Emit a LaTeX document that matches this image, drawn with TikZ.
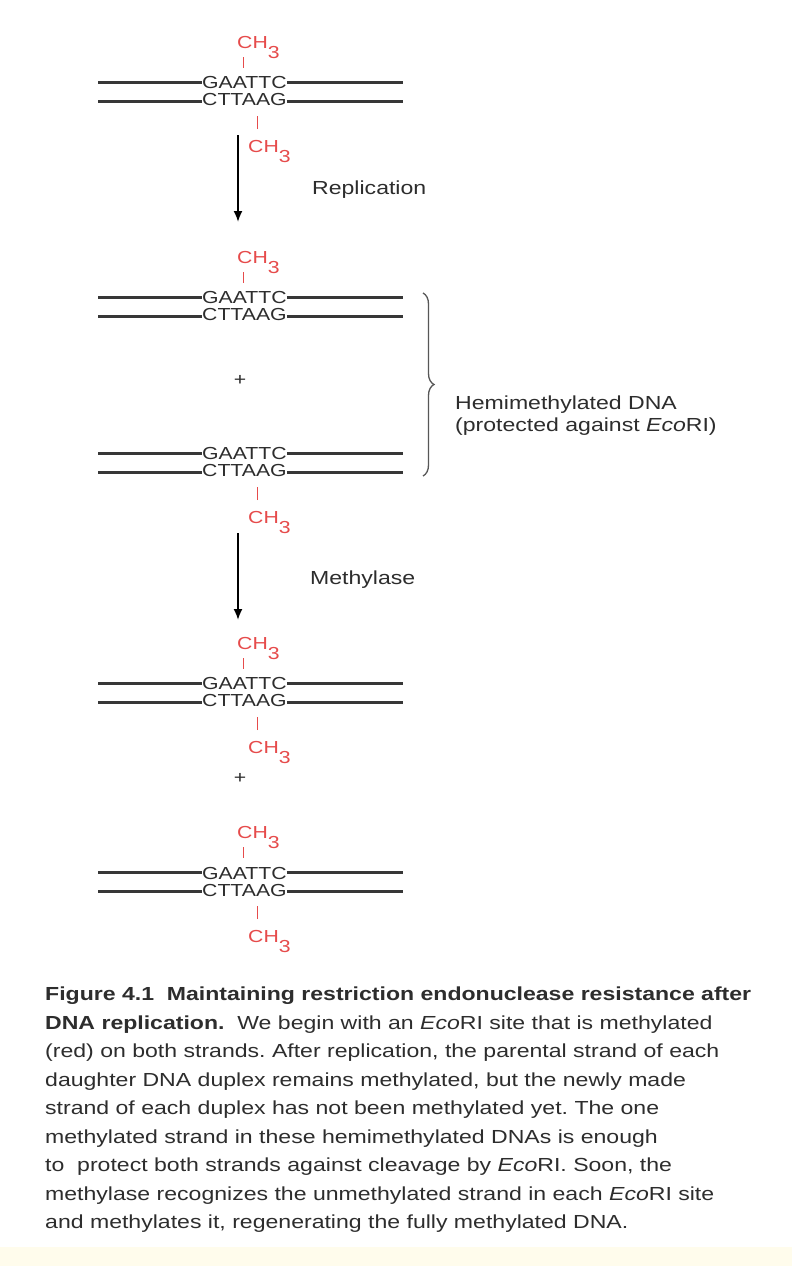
\documentclass[tikz,border=0pt]{standalone}
\usepackage{fontspec}
\setmainfont[FakeStretch=1.22]{Liberation Sans}
\usetikzlibrary{positioning, arrows.meta, decorations.pathreplacing}
\definecolor{strand}{RGB}{55, 55, 55}
\definecolor{ink}{RGB}{45, 45, 45}
\definecolor{methyl}{RGB}{230, 75, 75}
\definecolor{paper}{RGB}{255, 252, 236}
\newcommand{\methylCH}{CH\raisebox{-1.1ex}{3}}
\frenchspacing

\begin{document}
\begin{tikzpicture}[x=1pt, y=-1pt,
    basepair/.style={inner sep=0pt, text=ink, font=\fontsize{17.4}{17}\selectfont},
    strandline/.style={line width=3pt, strand},
    methylgrp/.style={inner sep=0pt, text=methyl, font=\fontsize{17.4}{17}\selectfont},
    bond/.style={line width=1pt, methyl},
    sidetext/.style={inner sep=0pt, text=ink, font=\fontsize{18.9}{22}\selectfont, anchor=west, align=left},
    captiontext/.style={inner sep=0pt, text=ink, font=\fontsize{18.9}{28.5}\selectfont, align=left},
    growarrow/.style={-{Latex[length=11pt, width=9pt]}, line width=1.8pt, black},
    hemibrace/.style={decorate, decoration={brace, amplitude=11pt}, line width=1.3pt, ink!80}]

    % Página
    \path[fill=white, use as bounding box] (0,0) rectangle (792,1266);
    \fill[paper] (0,1247) rectangle (792,1266);

    % Duplexes com o sítio GAATTC
    \foreach \n/\yy in {1/82, 2/297, 3/453, 4/683, 5/872} {
        \node[basepair, anchor=west] (top\n) at (202,\yy+1) {GAATTC};
        \node[basepair, anchor=west] (bot\n) at (202,\yy+18) {CTTAAG};
        \coordinate (tl\n) at (98,\yy);
        \coordinate (bl\n) at (98,\yy+19);
        \coordinate (tr\n) at (403,\yy);
        \coordinate (br\n) at (403,\yy+19);
        \draw[strandline] (tl\n) -- (top\n.west |- tl\n);
        \draw[strandline] (top\n.east |- tr\n) -- (tr\n);
        \draw[strandline] (bl\n) -- (bot\n.west |- bl\n);
        \draw[strandline] (bot\n.east |- br\n) -- (br\n);
    }

    % Metilas na fita de cima
    \foreach \n/\yy in {1/82, 2/297, 4/683, 5/872} {
        \node[methylgrp, anchor=base west] (mt\n) at (237,\yy-34) {\methylCH};
        \draw[bond] ([xshift=6pt]mt\n.base west) ++(0,9) -- ++(0,11);
    }

    % Metilas na fita de baixo
    \foreach \n/\yy in {1/82, 3/453, 4/683, 5/872} {
        \node[methylgrp, anchor=base west] (mb\n) at (248,\yy+70) {\methylCH};
        \draw[bond] ([xshift=9pt]mb\n.base west) ++(0,-23) -- ++(0,-13);
    }

    % Setas
    \coordinate (rep1) at (238,135);
    \coordinate (rep2) at (238,222);
    \draw[growarrow] (rep1) -- (rep2);
    \node[sidetext] (replication) at (312,190) {Replication};

    \coordinate (met1) at (238,533);
    \coordinate (met2) at (238,620);
    \draw[growarrow] (met1) -- (met2);
    \node[sidetext] (methylase) at (310,580) {Methylase};

    \node[basepair] (plus1) at (240,380) {+};
    \node[basepair] (plus2) at (240,778) {+};

    % Chave do DNA hemimetilado
    \coordinate (bracetop) at (423,293);
    \coordinate (bracebot) at (423,476);
    \draw[hemibrace] (bracetop) -- (bracebot);
    \node[sidetext] (hemi) at (455,416) {Hemimethylated DNA\\(protected against \textit{Eco}RI)};

    % Legenda
    \node[captiontext, anchor=north west] (caption) at (45,987) {%
        \textbf{Figure 4.1~~Maintaining restriction endonuclease resistance after}\\
        \textbf{DNA replication.}~~We begin with an \textit{Eco}RI site that is methylated\\
        (red) on both strands. After replication, the parental strand of each\\
        daughter DNA duplex remains methylated, but the newly made\\
        strand of each duplex has not been methylated yet. The one\\
        methylated strand in these hemimethylated DNAs is enough\\
        to~~protect both strands against cleavage by \textit{Eco}RI. Soon, the\\
        methylase recognizes the unmethylated strand in each \textit{Eco}RI site\\
        and methylates it, regenerating the fully methylated DNA.};
\end{tikzpicture}
\end{document}
